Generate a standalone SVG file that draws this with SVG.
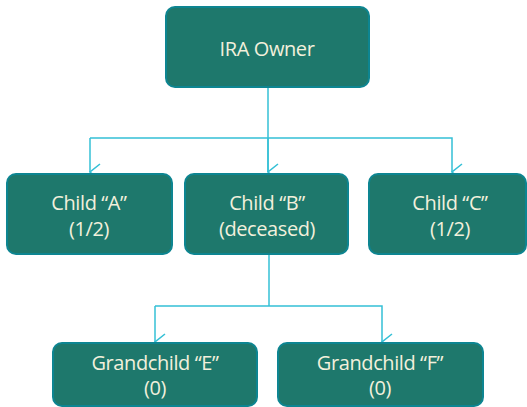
<svg xmlns="http://www.w3.org/2000/svg" width="527" height="407" viewBox="0 0 527 407">
<defs>
<style>
.box{fill:#1E786C;stroke:#0D8591;stroke-width:2}
.t{font-family:"Open Sans","DejaVu Sans",sans-serif;font-size:20px;letter-spacing:-0.4px;fill:#F2F0DC;text-anchor:middle}
.c{fill:none;stroke:#35C0D6;stroke-width:1.5}
</style>
<marker id="ar" markerWidth="18" markerHeight="12" refX="9" refY="11" orient="auto-start-reverse" markerUnits="userSpaceOnUse" viewBox="0 0 18 12">
<path d="M1,1 L9,11 L17,1" fill="none" stroke="#35C0D6" stroke-width="1.6"/>
</marker>
</defs>
<rect width="527" height="407" fill="#fff"/>
<g id="connectors">
<path class="c" d="M268,87 V172"/>
<path class="c" d="M90,138 V172" marker-end="url(#ar)"/>
<path class="c" d="M90,138 H452 V172" marker-end="url(#ar)"/>
<path class="c" d="M268,138 V172" marker-end="url(#ar)"/>
<path class="c" d="M269,254 V306"/>
<path class="c" d="M155,306 V342" marker-end="url(#ar)"/>
<path class="c" d="M155,306 H382 V342" marker-end="url(#ar)"/>
</g>
<g id="owner"><rect class="box" x="166" y="7" width="203" height="80" rx="9"/><text class="t" x="267" y="56">IRA Owner</text></g>
<g id="childA"><rect class="box" x="7" y="174" width="165" height="80" rx="9"/><text class="t" x="89" y="210">Child “A”</text><text class="t" x="89" y="236">(1/2)</text></g>
<g id="childB"><rect class="box" x="185" y="174" width="163" height="80" rx="9"/><text class="t" x="267" y="210">Child “B”</text><text class="t" x="267" y="236">(deceased)</text></g>
<g id="childC"><rect class="box" x="369" y="174" width="157" height="80" rx="9"/><text class="t" x="450" y="210">Child “C”</text><text class="t" x="450" y="236">(1/2)</text></g>
<g id="grandE"><rect class="box" x="53" y="343" width="204" height="63" rx="9"/><text class="t" x="155" y="370">Grandchild “E”</text><text class="t" x="155" y="395">(0)</text></g>
<g id="grandF"><rect class="box" x="278" y="343" width="205" height="63" rx="9"/><text class="t" x="380" y="370">Grandchild “F”</text><text class="t" x="380" y="395">(0)</text></g>
</svg>
